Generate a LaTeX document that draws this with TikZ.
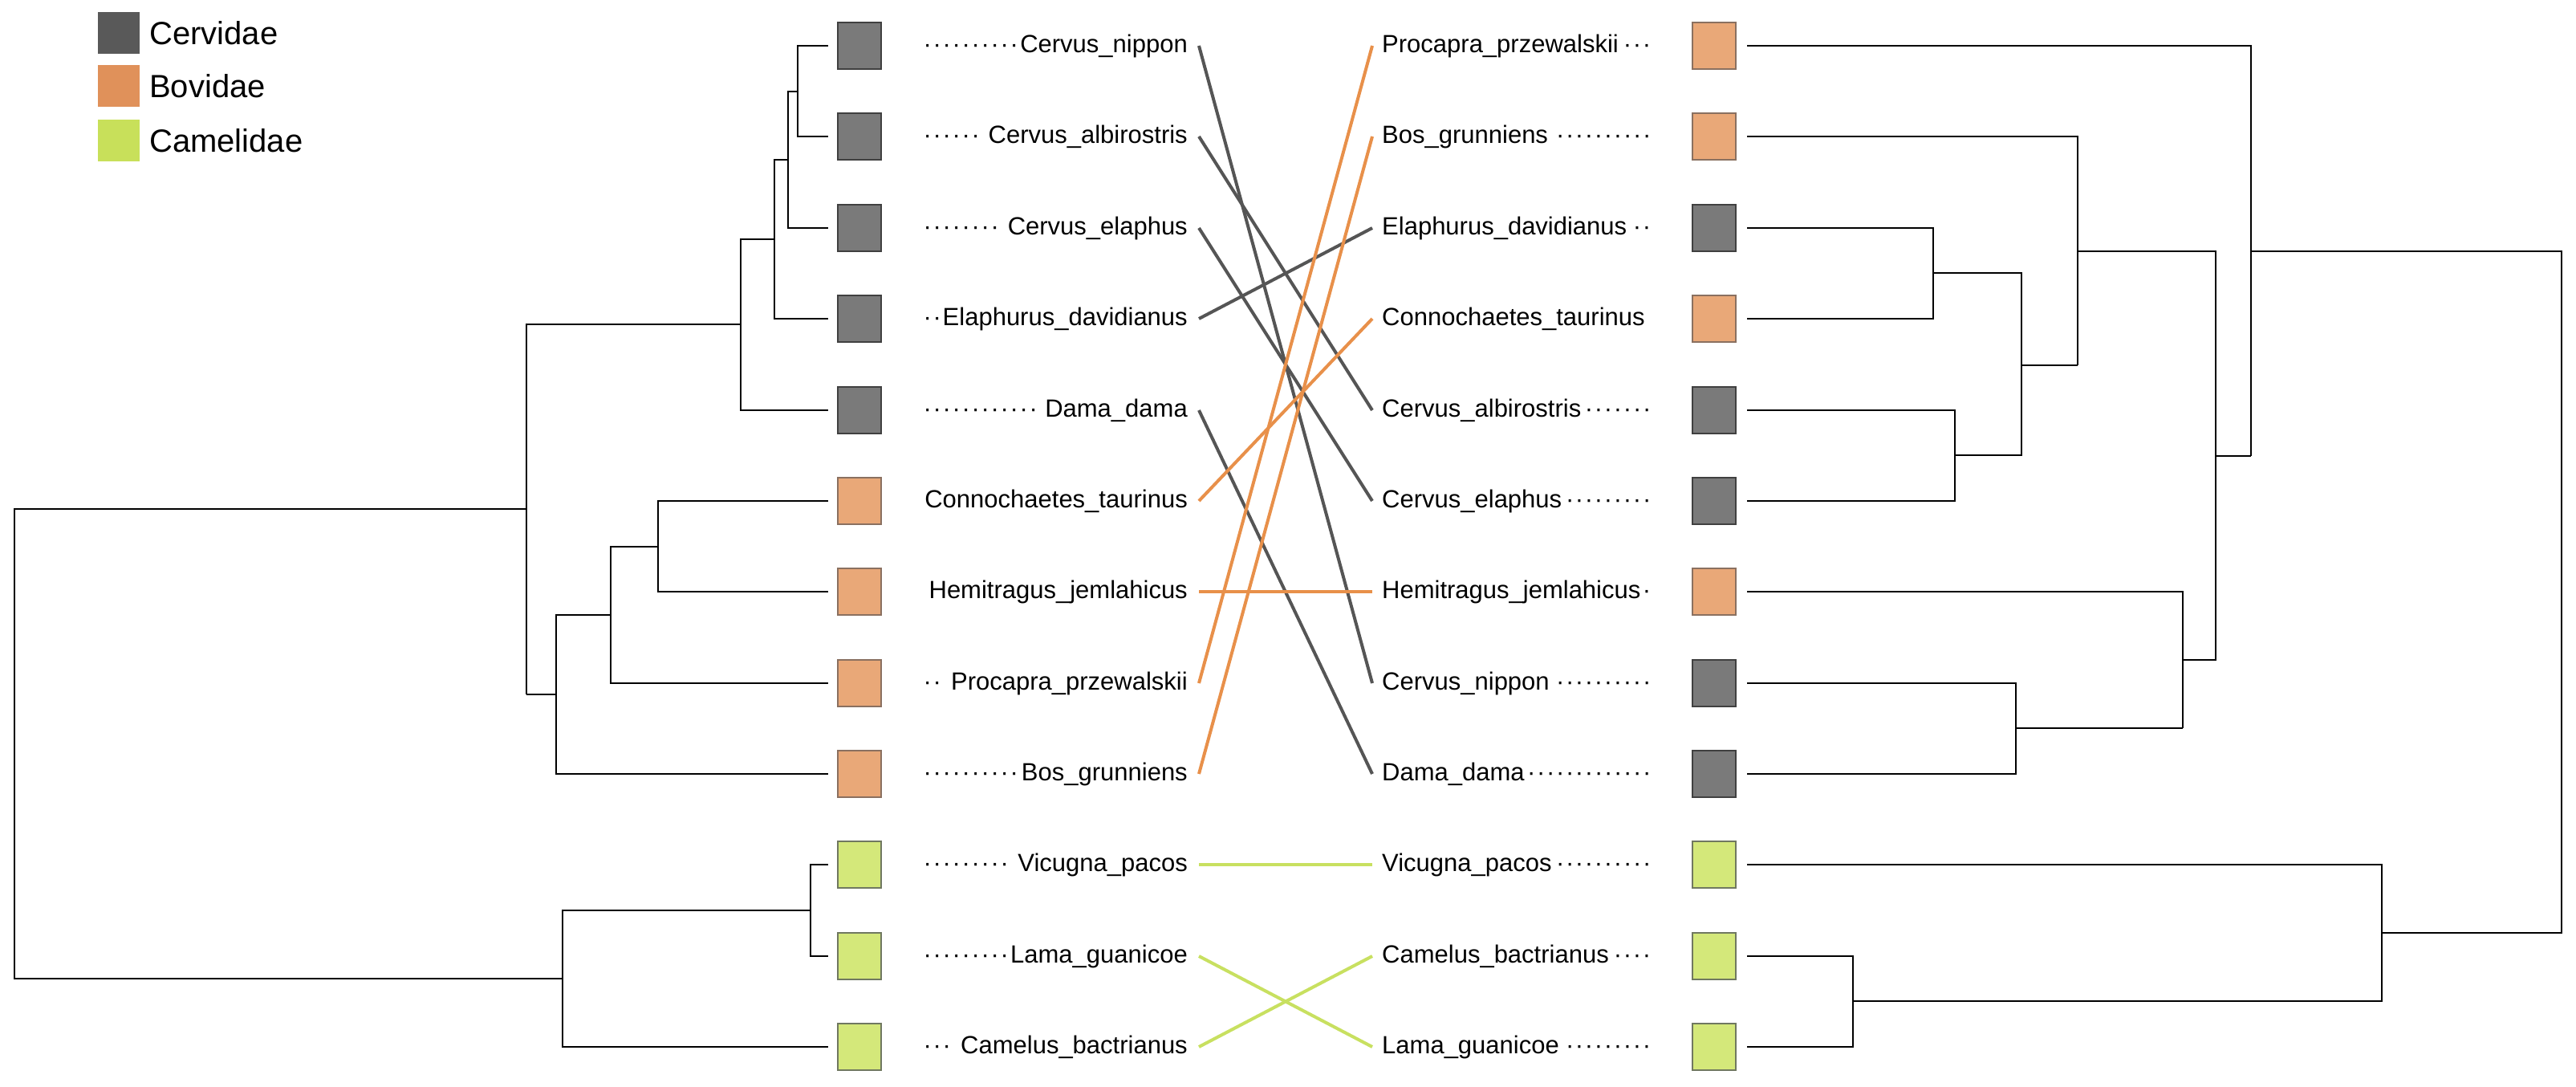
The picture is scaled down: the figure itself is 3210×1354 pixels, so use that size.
\documentclass[tikz,border=0pt]{standalone}
\usepackage{fontspec}
\setmainfont{Liberation Sans}
\begin{document}
\begin{tikzpicture}[x=1pt,y=-1pt,
  sq/.style={minimum width=54pt,minimum height=58pt,inner sep=0pt,line width=2pt},
  cer/.style={sq,fill=cerF,draw=cerD},
  bov/.style={sq,fill=bovF,draw=bovD},
  cam/.style={sq,fill=camF,draw=camD},
  lab/.style={font=\fontsize{31}{36}\selectfont,inner ysep=0pt,inner xsep=0pt},
  tr/.style={line width=1.3pt},
  tk/.style={line width=2.6pt},
  con/.style={line width=4pt},
  leg/.style={minimum width=52pt,minimum height=52pt,inner sep=0pt}]
\definecolor{cerF}{HTML}{7A7A7A}\definecolor{cerD}{HTML}{404040}
\definecolor{bovF}{HTML}{E9A878}\definecolor{bovD}{HTML}{8A7060}
\definecolor{camF}{HTML}{D4E87A}\definecolor{camD}{HTML}{707860}
\definecolor{cerL}{HTML}{595959}\definecolor{bovL}{HTML}{E0915A}\definecolor{camL}{HTML}{C8E05A}
\definecolor{cerC}{HTML}{555555}\definecolor{bovC}{HTML}{E8904A}\definecolor{camC}{HTML}{C8E060}
\newcommand\lf[1]{\makebox[330pt][r]{\leaders\hbox to 12pt{\hss\textperiodcentered\hss}\hfill#1}}
\newcommand\rt[1]{\makebox[338pt][l]{#1\leaders\hbox to 12pt{\hss\textperiodcentered\hss}\hfill}}
\useasboundingbox (0,0) rectangle (3210,1354);
% legend
\node[leg,fill=cerL] (g1) at (148,41) {};
\node[leg,fill=bovL] (g2) at (148,107) {};
\node[leg,fill=camL] (g3) at (148,175) {};
\node[anchor=west,font=\fontsize{40}{46}\selectfont,inner sep=0pt] (t1) at (186,41) {Cervidae};
\node[anchor=west,font=\fontsize{40}{46}\selectfont,inner sep=0pt] (t2) at (186,107) {Bovidae};
\node[anchor=west,font=\fontsize{40}{46}\selectfont,inner sep=0pt] (t3) at (186,175) {Camelidae};
% left squares and labels
\foreach \i/\n/\s/\y in {1/Cervus\_nippon/cer/57,2/Cervus\_albirostris/cer/170,3/Cervus\_elaphus/cer/284,4/Elaphurus\_davidianus/cer/397,5/Dama\_dama/cer/511,6/Connochaetes\_taurinus/bov/624,7/Hemitragus\_jemlahicus/bov/737,8/Procapra\_przewalskii/bov/851,9/Bos\_grunniens/bov/964,10/Vicugna\_pacos/cam/1077,11/Lama\_guanicoe/cam/1191,12/Camelus\_bactrianus/cam/1304}{
  \node[\s] (ls\i) at (1071,\y) {};
  \node[lab,anchor=east,inner xsep=14pt] (L\i) at (1494,\y) {\lf{\n}};
}
% right squares and labels
\foreach \i/\n/\s/\y in {1/Procapra\_przewalskii/bov/57,2/Bos\_grunniens/bov/170,3/Elaphurus\_davidianus/cer/284,4/Connochaetes\_taurinus/bov/397,5/Cervus\_albirostris/cer/511,6/Cervus\_elaphus/cer/624,7/Hemitragus\_jemlahicus/bov/737,8/Cervus\_nippon/cer/851,9/Dama\_dama/cer/964,10/Vicugna\_pacos/cam/1077,11/Camelus\_bactrianus/cam/1191,12/Lama\_guanicoe/cam/1304}{
  \node[\s] (rs\i) at (2136,\y) {};
  \node[lab,anchor=west,inner xsep=12pt] (R\i) at (1710,\y) {\rt{\n}};
}
% connectors
\draw[con,cerC] (L1.east) -- (R8.west);
\draw[con,cerC] (L2.east) -- (R5.west);
\draw[con,cerC] (L3.east) -- (R6.west);
\draw[con,cerC] (L4.east) -- (R3.west);
\draw[con,cerC] (L5.east) -- (R9.west);
\draw[con,bovC] (L6.east) -- (R4.west);
\draw[con,bovC] (L7.east) -- (R7.west);
\draw[con,bovC] (L8.east) -- (R1.west);
\draw[con,bovC] (L9.east) -- (R2.west);
\draw[con,camC] (L10.east) -- (R10.west);
\draw[con,camC] (L11.east) -- (R12.west);
\draw[con,camC] (L12.east) -- (R11.west);
% left tree
\draw[tk] (1032,57) -| (994,170) -- (1032,170);
\draw[tk] (994,114) -| (982,284) -- (1032,284);
\draw[tk] (982,199) -| (965,397) -- (1032,397);
\draw[tr] (965,298) -| (923,511) -- (1032,511);
\draw[tk] (923,404) -| (656,865);
\draw[tk] (1032,624) -| (820,681);
\draw[tr] (820,681) |- (1032,737);
\draw[tk] (820,681) -| (761,766);
\draw[tr] (761,766) |- (1032,851);
\draw[tr] (761,766) -| (693,964) -- (1032,964);
\draw[tr] (693,865) -- (656,865);
\draw[tk] (656,634) -| (18,1219) -- (701,1219);
\draw[tk] (1032,1077) -| (1010,1191) -- (1032,1191);
\draw[tr] (1010,1134) -| (701,1304) -- (1032,1304);
% right tree
\draw[tr] (2177,57) -| (2805,568);
\draw[tk] (2177,170) -| (2589,455);
\draw[tr] (2177,284) -| (2409,397) -- (2177,397);
\draw[tk] (2177,511) -| (2436,624) -- (2177,624);
\draw[tr] (2409,340) -| (2519,567) -- (2436,567);
\draw[tk] (2519,455) -- (2589,455);
\draw[tr] (2177,737) -| (2720,907);
\draw[tr] (2177,851) -| (2512,964) -- (2177,964);
\draw[tr] (2512,907) -- (2720,907);
\draw[tk] (2589,313) -| (2761,822) -- (2720,822);
\draw[tk] (2761,568) -- (2805,568);
\draw[tk] (2805,313) -| (3192,1162) -- (2968,1162);
\draw[tr] (2177,1077) -| (2968,1247) -- (2309,1247);
\draw[tr] (2177,1191) -| (2309,1304) -- (2177,1304);
\end{tikzpicture}
\end{document}
